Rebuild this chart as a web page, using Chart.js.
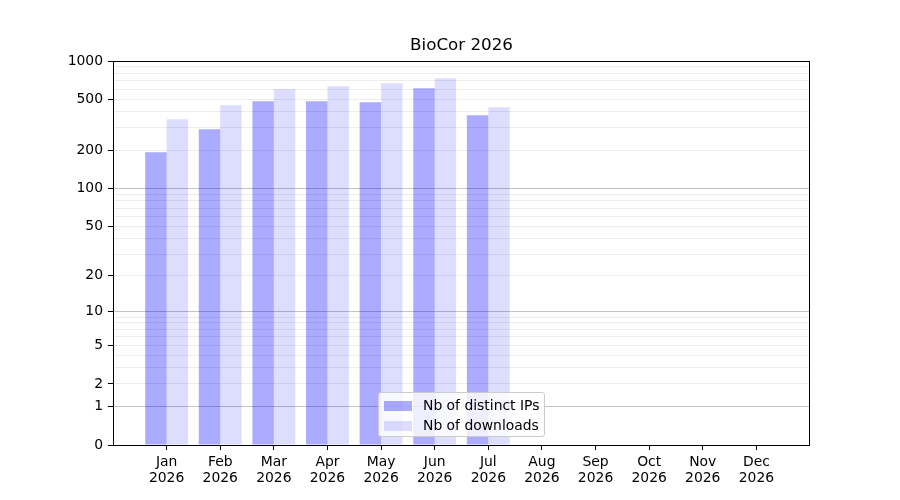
<!DOCTYPE html>
<html>
<head>
<meta charset="utf-8">
<title>BioCor 2026</title>
<script src="https://cdn.jsdelivr.net/npm/chart.js@4.4.1/dist/chart.umd.min.js"></script>
<style>
  html, body { margin: 0; padding: 0; background: #fff; }
  #wrap { position: relative; width: 900px; height: 500px; }
  #legend {
    position: absolute; left: 378px; top: 392px; width: 165px; height: 43px;
    border: 1px solid #cccccc; border-radius: 3px; background: rgba(255, 255, 255, 0.8);
    font-family: "DejaVu Sans", sans-serif; font-size: 13.9px; color: #000;
  }
  #legend .item { position: absolute; left: 5px; height: 16px; line-height: 16px; white-space: nowrap; }
  #legend .swatch { display: inline-block; width: 28px; height: 10px; vertical-align: -1px; margin-right: 11px; }
</style>
</head>
<body>
<div id="wrap">
  <canvas id="chart" width="900" height="500"></canvas>
  <div id="legend"></div>
</div>
<script>
  const categories = ['Jan', 'Feb', 'Mar', 'Apr', 'May', 'Jun', 'Jul', 'Aug', 'Sep', 'Oct', 'Nov', 'Dec'];
  const year = '2026';
  const seriesNames = ['Nb of distinct IPs', 'Nb of downloads'];
  const distinctIps = [193, 292, 484, 484, 476, 612, 376];
  const downloads = [350, 450, 601, 634, 670, 732, 434];
  const yTickLabels = [0, 1, 2, 5, 10, 20, 50, 100, 200, 500, 1000];
  const yMinorTicks = [3, 4, 6, 7, 8, 9, 30, 40, 60, 70, 80, 90, 300, 400, 600, 700, 800, 900];
  const yMajorGrid = [1, 10, 100, 1000];

  const FONT = '"DejaVu Sans", sans-serif';

  // y axis scaled as log10(1 + v), so 0 sits at the bottom like a symlog axis
  class Log1pScale extends Chart.LinearScale {
    buildTicks() {
      return yTickLabels.concat(yMinorTicks)
        .sort(function (a, b) { return a - b; })
        .map(function (v) { return { value: v }; });
    }
    getPixelForValue(value) {
      const t0 = Math.log10(1 + this.min);
      const t1 = Math.log10(1 + this.max);
      return this.getPixelForDecimal((Math.log10(1 + value) - t0) / (t1 - t0));
    }
    getValueForPixel(pixel) {
      const t0 = Math.log10(1 + this.min);
      const t1 = Math.log10(1 + this.max);
      return Math.pow(10, t0 + this.getDecimalForPixel(pixel) * (t1 - t0)) - 1;
    }
  }
  Log1pScale.id = 'log1p';
  Log1pScale.defaults = Chart.LinearScale.defaults;
  Chart.register(Log1pScale);

  const framePlugin = {
    id: 'frame',
    afterDatasetsDraw: function (chart) {
      const a = chart.chartArea;
      const ctx = chart.ctx;
      ctx.save();
      ctx.strokeStyle = '#000';
      ctx.lineWidth = 1;
      ctx.strokeRect(Math.round(a.left) + 0.5, Math.round(a.top) + 0.5,
        Math.round(a.right - a.left) - 1, Math.round(a.bottom - a.top));
      ctx.restore();
    }
  };

  function toPoints(values) {
    return values.map(function (v, i) { return { x: i, y: v }; });
  }

  const chart = new Chart(document.getElementById('chart'), {
    type: 'bar',
    data: {
      datasets: [
        { label: seriesNames[0], data: toPoints(distinctIps), backgroundColor: 'rgba(0, 0, 255, 0.33)' },
        { label: seriesNames[1], data: toPoints(downloads), backgroundColor: 'rgba(0, 0, 255, 0.135)' }
      ]
    },
    options: {
      responsive: false,
      animation: false,
      layout: { padding: { top: 36, right: 90, bottom: 0, left: 0 } },
      datasets: { bar: { categoryPercentage: 0.8, barPercentage: 1.0, borderWidth: 0 } },
      scales: {
        x: {
          type: 'linear',
          min: -1,
          max: 12,
          offset: false,
          afterBuildTicks: function (scale) {
            scale.ticks = scale.ticks.filter(function (t) { return t.value >= 0 && t.value <= 11; });
          },
          afterFit: function (scale) { scale.height = 55; },
          border: { display: false },
          grid: { offset: false, drawOnChartArea: false, drawTicks: true, tickLength: 5, color: '#000' },
          ticks: {
            stepSize: 1,
            autoSkip: false,
            maxRotation: 0,
            padding: 4,
            color: '#000',
            font: { family: FONT, size: 13.9, lineHeight: 1.16 },
            callback: function (v) { return [categories[v], year]; }
          }
        },
        y: {
          type: 'log1p',
          min: 0,
          max: 1000,
          afterFit: function (scale) { scale.width = 113; },
          border: { display: false },
          grid: {
            tickLength: 5,
            color: function (ctx) {
              return yMajorGrid.indexOf(ctx.tick.value) >= 0 ? '#c4c4c4' : '#ececec';
            },
            tickColor: function (ctx) {
              return yTickLabels.indexOf(ctx.tick.value) >= 0 ? '#000' : 'rgba(0,0,0,0)';
            }
          },
          ticks: {
            autoSkip: false,
            padding: 5,
            color: '#000',
            font: { family: FONT, size: 13.9 },
            callback: function (v) { return yTickLabels.indexOf(v) >= 0 ? String(v) : ''; }
          }
        }
      },
      plugins: {
        legend: { display: false },
        tooltip: { enabled: false },
        title: {
          display: true,
          text: 'BioCor 2026',
          fullSize: false,
          color: '#000',
          font: { family: FONT, size: 16.7, weight: 'normal', lineHeight: 1.2 },
          padding: { top: 0, bottom: 5 }
        }
      }
    },
    plugins: [framePlugin]
  });

  // legend drawn as HTML inside the plot, lower centre
  const legendEl = document.getElementById('legend');
  legendEl.innerHTML = chart.data.datasets.map(function (ds, i) {
    return '<div class="item" style="top:' + (4 + i * 20) + 'px"><span class="swatch" style="background:' +
      ds.backgroundColor + '"></span>' + ds.label + '</div>';
  }).join('');
</script>
</body>
</html>
